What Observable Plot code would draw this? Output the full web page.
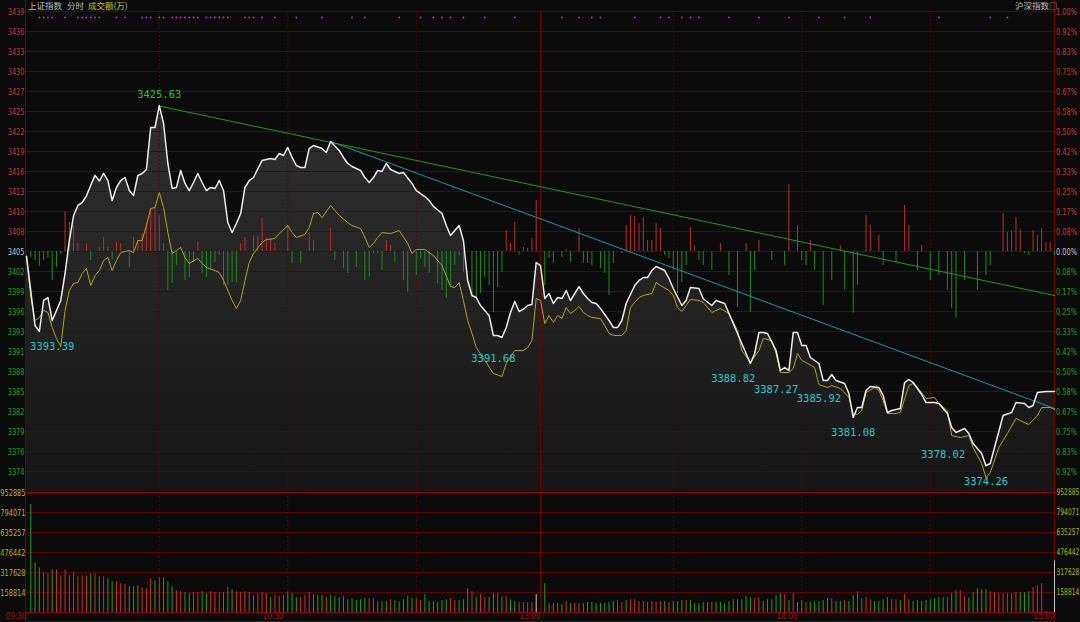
<!DOCTYPE html>
<html><head><meta charset="utf-8">
<script src="https://cdn.jsdelivr.net/npm/d3@7"></script>
<script src="https://cdn.jsdelivr.net/npm/@observablehq/plot@0.6"></script>
<style>
html,body{margin:0;padding:0;background:#0b0b0b;}
#wrap{position:relative;width:1080px;height:622px;overflow:hidden;background:#0b0b0b;}
#wrap svg{position:absolute;left:0;top:0;}
.hdr{position:absolute;top:-1px;font-family:"Noto Sans CJK SC";font-size:8.5px;line-height:12px;white-space:nowrap;}
#border{position:absolute;left:25px;top:0;width:1028px;height:621px;border-left:1px solid #780000;border-right:1px solid #780000;border-bottom:1px solid #780000;}
</style></head>
<body><div id="wrap">
<div id="border"></div>
<div class="hdr" style="left:28px;color:#bdbdbd">上证指数</div>
<div class="hdr" style="left:67px;color:#bdbdbd">分时</div>
<div class="hdr" style="left:88px;color:#c4c41c">成交额(万)</div>
<div class="hdr" style="left:1015px;color:#bdbdbd">沪深指数□</div>
</div>
<script>
const prevClose = 3405.0;
const leftLabels = ["3439","3436","3433","3430","3427","3425","3422","3419","3416","3413","3410","3408","3405","3402","3399","3396","3393","3391","3388","3385","3382","3379","3376","3374"];
const rightLabels = ["1.00%","0.92%","0.83%","0.75%","0.67%","0.58%","0.50%","0.42%","0.33%","0.25%","0.17%","0.08%","0.00%","0.08%","0.17%","0.25%","0.33%","0.42%","0.50%","0.58%","0.67%","0.75%","0.83%","0.92%"];
const volTickValues = [952.885, 794.071, 635.257, 476.442, 317.628, 158.814];
const volTickLabels = ["952885","794071","635257","476442","317628","158814"];
const timeTicks = [0, 60, 120, 180, 240];
const timeLabels = ["09:30","10:30","13:00","14:00","15:00"];
const gridMinutes = [31, 61, 91, 151, 181, 211];
const sessionBreak = 120;

// white line (index, weighted) [minute, price]
const whiteLine = [[0,3404.3],[2,3394.5],[3,3393.65],[4,3398.05],[5,3398.47],[6,3395.21],[8,3398.05],[9,3401.88],[10,3406.56],[11,3410.11],[12,3411.53],[13,3411.95],[14,3412.9],[15,3414.4],[16,3415.8],[17,3415.0],[18,3416.07],[19,3415.07],[20,3412.24],[21,3414.08],[22,3415.07],[23,3415.5],[24,3413.65],[25,3412.95],[26,3415.78],[27,3416.07],[28,3416.63],[29,3422.59],[30,3422.59],[31,3425.7],[32,3423.16],[33,3417.49],[34,3413.94],[35,3414.08],[36,3416.49],[37,3414.65],[38,3413.65],[39,3414.79],[40,3416.07],[41,3414.79],[42,3413.65],[43,3414.08],[44,3413.94],[45,3415.07],[46,3413.65],[47,3409.11],[48,3407.7],[49,3408.97],[50,3410.39],[51,3414.08],[52,3415.07],[53,3415.5],[55,3417.91],[57,3418.19],[58,3418.05],[59,3418.9],[60,3418.62],[61,3419.76],[62,3418.34],[63,3417.2],[64,3416.92],[65,3416.92],[66,3419.61],[67,3420.04],[69,3419.61],[70,3419.05],[71,3420.61],[73,3419.33],[74,3418.34],[75,3417.49],[76,3417.06],[78,3416.49],[79,3415.5],[80,3414.79],[81,3415.5],[82,3416.49],[83,3416.35],[84,3417.49],[85,3416.63],[87,3416.07],[88,3416.21],[90,3414.65],[91,3413.65],[92,3413.2],[93,3412.8],[94,3412.24],[95,3411.4],[97,3410.39],[98,3408.69],[99,3407.27],[100,3407.98],[101,3408.69],[102,3406.56],[103,3400.89],[104,3398.76],[105,3398.47],[106,3397.34],[108,3395.92],[109,3393.08],[110,3393.08],[111,3392.8],[112,3394.22],[113,3396.35],[114,3397.91],[115,3396.49],[116,3396.8],[117,3397.34],[118,3397.48],[119,3403.44],[120,3403.01],[121,3398.33],[122,3399.04],[123,3397.62],[124,3398.47],[125,3398.33],[126,3399.47],[127,3398.05],[128,3399.04],[129,3400.03],[130,3399.04],[131,3398.33],[132,3397.76],[133,3397.62],[134,3396.91],[136,3395.21],[137,3394.22],[138,3394.22],[139,3395.21],[140,3397.62],[142,3400.18],[143,3400.89],[144,3401.31],[145,3401.31],[146,3402.3],[147,3402.87],[149,3402.3],[150,3401.17],[151,3399.75],[153,3397.34],[154,3398.05],[155,3399.89],[157,3399.75],[158,3398.3],[160,3397.34],[161,3398.05],[163,3397.62],[164,3396.2],[166,3393.37],[168,3390.53],[169,3389.11],[170,3390.53],[171,3393.51],[172,3393.51],[173,3393.37],[175,3390.95],[176,3388.12],[177,3388.54],[178,3388.12],[179,3393.51],[180,3393.51],[181,3391.66],[182,3391.66],[183,3389.96],[185,3389.11],[186,3386.7],[187,3386.7],[188,3387.55],[189,3386.7],[191,3386.27],[192,3384.85],[193,3381.45],[194,3382.87],[195,3382.87],[196,3385.28],[197,3385.85],[199,3385.7],[200,3384.57],[201,3382.16],[202,3382.44],[204,3382.73],[205,3386.41],[206,3386.84],[207,3386.41],[209,3384.71],[210,3383.57],[212,3383.57],[213,3383.43],[215,3382.02],[216,3380.03],[217,3379.32],[219,3379.89],[220,3379.18],[221,3377.76],[223,3376.34],[224,3374.6],[225,3374.92],[226,3377.19],[228,3381.73],[230,3382.16],[231,3383.57],[233,3383.43],[234,3382.87],[235,3383.15],[236,3385.0],[238,3385.14],[240,3385.14]];

// yellow line (index, unweighted) [minute, price]
const yellowLine = [[0,3404.4],[1,3398.47],[2,3395.21],[3,3395.64],[4,3396.63],[5,3396.35],[6,3394.22],[7,3392.66],[8,3391.52],[9,3396.63],[10,3399.47],[11,3400.46],[12,3400.6],[13,3401.88],[14,3402.59],[15,3400.18],[16,3401.6],[17,3402.3],[18,3403.72],[19,3404.15],[20,3402.3],[21,3403.72],[22,3404.86],[24,3405.14],[25,3404.86],[26,3406.56],[27,3406.56],[28,3408.69],[29,3411.1],[30,3411.24],[31,3413.37],[32,3411.24],[33,3407.7],[34,3404.72],[35,3405.14],[36,3405.57],[37,3404.15],[38,3403.3],[40,3404.01],[41,3403.3],[42,3402.73],[44,3402.3],[45,3402.02],[46,3400.89],[48,3398.05],[49,3396.91],[50,3398.05],[51,3400.89],[52,3403.44],[53,3404.72],[55,3406.28],[56,3406.7],[58,3406.84],[59,3407.55],[61,3408.69],[62,3407.7],[63,3406.99],[65,3407.41],[66,3408.41],[67,3410.39],[68,3410.53],[69,3409.82],[71,3411.53],[72,3410.82],[73,3410.11],[75,3409.11],[76,3408.69],[78,3408.26],[79,3406.99],[80,3405.57],[81,3406.14],[82,3406.99],[83,3407.7],[85,3407.55],[87,3407.98],[89,3406.14],[90,3404.72],[91,3405.28],[93,3405.28],[95,3404.43],[97,3403.01],[99,3400.03],[100,3399.89],[101,3400.6],[102,3398.05],[103,3395.21],[104,3393.37],[105,3391.38],[107,3389.54],[109,3387.69],[111,3387.27],[112,3389.11],[114,3390.95],[116,3390.95],[117,3391.38],[118,3392.37],[119,3398.33],[120,3398.05],[121,3394.78],[122,3395.92],[123,3394.93],[124,3395.92],[125,3395.49],[126,3397.06],[127,3396.2],[128,3396.63],[129,3397.2],[130,3396.35],[131,3395.92],[132,3395.64],[134,3395.49],[135,3394.5],[136,3393.37],[137,3393.08],[139,3393.08],[140,3393.79],[141,3397.06],[143,3398.47],[144,3398.76],[146,3399.04],[147,3400.6],[148,3400.18],[150,3399.47],[151,3398.76],[152,3397.06],[153,3396.49],[154,3397.34],[155,3398.19],[157,3398.05],[158,3397.76],[160,3396.35],[162,3396.91],[164,3396.2],[166,3393.79],[167,3390.95],[169,3389.25],[171,3390.95],[172,3392.66],[174,3392.37],[175,3390.53],[176,3387.83],[178,3387.83],[179,3388.4],[180,3390.53],[181,3389.54],[182,3389.25],[184,3388.54],[185,3386.12],[187,3385.7],[188,3385.99],[190,3385.56],[192,3384.29],[193,3382.02],[194,3381.87],[195,3382.44],[196,3384.99],[198,3385.7],[199,3385.28],[200,3383.86],[201,3382.02],[203,3382.02],[204,3382.16],[206,3385.99],[207,3386.27],[209,3384.99],[210,3384.14],[212,3384.29],[213,3383.43],[215,3382.44],[216,3378.89],[218,3378.61],[220,3378.89],[221,3377.19],[223,3374.92],[224,3372.94],[225,3373.64],[227,3377.19],[229,3379.18],[231,3381.31],[232,3381.02],[234,3380.45],[236,3381.73],[237,3382.87],[239,3382.87],[240,3382.58]];

// buy/sell strength columns around the previous close [minute, offset]
const forceBars = [[1,-0.85],[2,-1.28],[3,-2.13],[4,-1.28],[5,-0.99],[6,-4.11],[7,-2.27],[8,-0.43],[9,5.68],[10,4.11],[11,3.69],[12,1.13],[14,1.13],[15,-1.28],[17,0.57],[18,1.99],[19,0.57],[20,-1.13],[21,1.28],[22,1.13],[24,-2.27],[25,1.99],[26,1.56],[27,2.55],[28,3.97],[29,6.1],[30,6.24],[31,5.11],[32,1.13],[33,-5.53],[34,-4.54],[35,-1.99],[37,-4.11],[38,-3.69],[39,-1.56],[40,1.28],[41,-3.12],[42,-3.69],[43,-2.7],[44,-1.56],[45,-0.57],[46,-4.82],[47,-4.82],[48,-4.4],[49,-4.4],[50,1.13],[51,1.99],[53,2.27],[54,2.13],[55,4.68],[56,1.84],[57,1.84],[58,1.13],[61,3.69],[62,-1.7],[64,-1.7],[66,2.7],[67,1.56],[71,3.26],[72,-1.28],[74,-2.41],[75,-3.12],[77,-2.27],[79,-4.11],[80,-3.69],[81,-0.28],[82,-0.28],[83,-2.7],[84,1.56],[85,0.85],[86,-1.56],[88,-4.11],[89,-5.82],[91,-3.41],[92,-0.99],[93,-2.27],[94,-3.12],[96,-4.54],[97,-5.53],[98,-6.67],[99,-4.82],[100,-1.99],[101,-0.57],[102,-2.98],[104,-6.53],[105,-6.53],[106,-5.96],[107,-3.69],[108,-4.82],[109,-8.65],[110,-5.11],[111,-2.98],[112,2.98],[113,1.13],[114,4.11],[115,-0.57],[116,0.57],[117,0.43],[118,1.84],[119,7.24],[121,-4.82],[122,-0.99],[123,-1.7],[125,-0.85],[126,0.28],[127,-1.56],[129,3.26],[130,-1.7],[131,-1.7],[132,-1.99],[134,-2.41],[135,-3.12],[136,-6.24],[137,-1.7],[139,-0.28],[140,3.69],[141,5.11],[142,4.97],[143,3.97],[144,4.82],[145,1.56],[146,1.56],[147,3.97],[148,3.26],[149,-0.57],[150,-0.99],[151,-2.7],[152,-5.96],[153,-4.4],[154,-1.99],[155,3.41],[156,0.85],[157,-1.28],[158,-1.99],[160,-2.7],[162,1.13],[164,-3.41],[166,-7.95],[168,1.13],[169,-8.65],[170,-2.7],[171,1.56],[174,-1.28],[177,-1.99],[178,9.5],[180,3.69],[181,-1.28],[182,-1.99],[183,1.56],[184,-2.7],[186,-7.66],[188,-4.11],[190,0.85],[191,-5.53],[193,-8.8],[194,-4.82],[196,5.11],[197,3.69],[199,2.27],[200,-1.99],[203,-1.56],[205,6.53],[206,3.69],[208,-2.7],[209,0.85],[211,-4.11],[213,-3.41],[215,-5.53],[216,-8.09],[217,-9.5],[219,-4.11],[222,-5.53],[224,-3.41],[225,-1.99],[228,5.39],[229,2.7],[230,2.98],[231,4.82],[232,3.12],[233,-0.28],[234,-0.57],[235,2.98],[236,2.27],[237,3.26],[238,1.28],[239,1.28],[240,-0.57]];

// volume (thousand 万) minutes 1..119, then 121..240
const volMorning = [858,394,354,315,307,339,339,291,339,291,315,284,291,291,307,307,284,284,268,244,244,228,221,205,205,213,197,189,268,252,276,276,244,205,173,165,158,150,158,158,165,150,165,158,158,158,197,181,165,158,165,158,134,150,158,150,118,134,126,134,165,150,118,118,134,158,142,134,134,118,134,126,118,126,102,110,95,102,110,110,110,87,87,87,102,95,87,102,126,110,110,95,142,87,87,79,95,102,110,95,95,102,189,165,118,142,118,118,150,150,126,126,102,87,79,79,79,79,142];
const volAfternoon = [228,71,71,71,63,87,71,71,71,71,79,79,71,71,71,79,87,95,79,95,102,102,87,87,79,87,79,87,87,79,87,87,95,95,95,71,71,79,79,79,79,79,71,87,102,102,102,126,118,110,118,87,102,102,134,150,142,95,150,79,95,79,79,87,87,95,110,110,87,87,95,87,134,165,110,118,102,87,87,102,118,102,102,95,142,102,87,95,87,95,102,110,118,118,118,150,173,173,126,118,158,189,181,181,165,158,150,150,150,150,158,158,158,165,197,213,228,8,0,410];
const dirMorning = "gggrrgrrrrrrrrgrgrggrrrgggrrrgrgggrrggrrggrrrgggrrrrrrrrgrrrgggrrrgggrgggggggggrrrggrgggggrrggggggrrgggrgrrggrgrggrrrr";
const dirAfternoon = "grgrgrgrrggggggggrrgrrrrrrrrgrgggrgggggrgggggggggrrgggggrgrggrgggggrggrggrgrrggggrrgrrggggggggrggrrgggggrrrrrrrgggrrrggw";

const eventMinutes = [3,4,5,6,9,12,13,14,15,16,17,21,23,27,28,29,31,32,34,35,36,37,38,39,40,42,43,44,45,46,47,51,52,53,55,58,63,69,76,79,87,92,95,97,99,102,107,114,125,129,132,134,142,148,150,153,155,157,164,171,178,185,191,197,213,225,229];

const peakLabel = [{m: 31, v: 3425.63}];
const lowLabels = [{m: 6, v: 3393.39},{m: 109, v: 3391.68},{m: 165, v: 3388.82},{m: 175, v: 3387.27},{m: 185, v: 3385.92},{m: 193, v: 3381.08},{m: 214, v: 3378.02},{m: 224, v: 3374.26}];
const greenTrend = [[31, 3425.63],[240, 3398.76]];
const cyanTrend = [[71, 3420.61],[240, 3382.73]];

// ---------- derived tables ----------
const yMin = prevClose * 0.99, yMax = prevClose * 1.01;
const priceTicks = leftLabels.map((l, i) => ({k: 12 - i, v: prevClose * (1 + (12 - i) / 1200), left: l, right: rightLabels[i]}));
const volData = [];
volMorning.forEach((v, i) => volData.push({m: i + 1, v, d: dirMorning[i]}));
volAfternoon.forEach((v, i) => volData.push({m: i + 121, v, d: dirAfternoon[i]}));

const RED = "#c8322e", GREEN = "#1e9e1e", GRID = "#620000";
const tickColor = k => k > 0 ? "#c83a3a" : k < 0 ? "#22a022" : "#c8c8c8";
// axis tick labels use a small font, stretched vertically afterwards to mimic the tall narrow bitmap digits
const axisFont = {fontFamily: "'DejaVu Sans',sans-serif", fontSize: 7.6};
const axisFontNarrow = {fontFamily: "'DejaVu Sans',sans-serif", fontSize: 6.4};
const annFont = {fontFamily: "'DejaVu Sans Mono',monospace", fontSize: 10.5};

const priceSvg = Plot.plot({
  width: 1080, height: 492, marginTop: 11, marginBottom: 1, marginLeft: 26, marginRight: 26,
  x: {domain: [0, 240], axis: null},
  y: {domain: [yMin, yMax], axis: null},
  style: {background: "transparent", overflow: "visible"},
  marks: [
    Plot.areaY(whiteLine, {x: d => d[0], y1: yMin, y2: d => d[1], fill: "url(#fillGrad)"}),
    Plot.ruleY(priceTicks, {y: "v", stroke: GRID}),
    Plot.ruleX(gridMinutes, {stroke: GRID, strokeDasharray: "2,2"}),
    Plot.ruleX([sessionBreak], {stroke: "#6e0000"}),
    Plot.ruleX(forceBars, {x: d => d[0], y1: prevClose, y2: d => prevClose + d[1], stroke: d => d[1] > 0 ? "#b8302e" : "#1c8c1c"}),
    Plot.dot(eventMinutes, {x: d => d, frameAnchor: "top", dy: 6, r: 0.9, fill: "#d424d4", stroke: null}),
    Plot.line(greenTrend, {x: d => d[0], y: d => d[1], stroke: "#1a9c1a", strokeWidth: 1}),
    Plot.line(cyanTrend, {x: d => d[0], y: d => d[1], stroke: "#1a9aa6", strokeWidth: 1}),
    Plot.line(yellowLine, {x: d => d[0], y: d => d[1], stroke: "#b4a616", strokeWidth: 1}),
    Plot.line(whiteLine, {x: d => d[0], y: d => d[1], stroke: "#ececec", strokeWidth: 1.5}),
    Plot.text(peakLabel, {x: "m", y: "v", text: d => d.v.toFixed(2), dy: -11, fill: "#22c822", ...annFont}),
    Plot.text(lowLabels, {x: "m", y: "v", text: d => d.v.toFixed(2), dy: 13, fill: "#22cccc", ...annFont}),
    Plot.text(priceTicks, {y: "v", text: "left", frameAnchor: "left", textAnchor: "end", dx: -2, fill: d => tickColor(d.k), ...axisFont}),
    Plot.text(priceTicks, {y: "v", text: "right", frameAnchor: "right", textAnchor: "start", dx: 1.5, fill: d => tickColor(d.k), ...axisFont})
  ]
});
d3.select(priceSvg).insert("defs", ":first-child").html(
  '<linearGradient id="fillGrad" x1="0" y1="0" x2="0" y2="1"><stop offset="0" stop-color="#303030"/><stop offset="1" stop-color="#151515"/></linearGradient>');

const volTicks = volTickValues.map((v, i) => ({v, label: volTickLabels[i]}));
const volSvg = Plot.plot({
  width: 1080, height: 622, marginTop: 492, marginBottom: 10, marginLeft: 26, marginRight: 26,
  x: {domain: [0, 240], axis: null},
  y: {domain: [0, volTickValues[0]], axis: null},
  style: {background: "transparent", overflow: "visible"},
  marks: [
    Plot.ruleY(volTicks.slice(1), {y: "v", stroke: GRID}),
    Plot.ruleX(gridMinutes, {stroke: GRID, strokeDasharray: "2,2"}),
    Plot.ruleX([sessionBreak], {stroke: "#6e0000"}),
    Plot.ruleX(volData.filter(d => d.v > 0), {x: "m", y1: 0, y2: "v", stroke: d => d.d === "r" ? RED : d.d === "g" ? GREEN : "#c8c8c8"}),
    Plot.ruleY([volTickValues[0]], {stroke: "#a00000"}),
    Plot.ruleY([0], {stroke: "#860000"}),
    Plot.text(volTicks, {y: "v", text: "label", frameAnchor: "left", textAnchor: "end", dx: -1, fill: "#b4b41c", ...axisFont}),
    Plot.text(volTicks, {y: "v", text: "label", frameAnchor: "right", textAnchor: "start", dx: 2, fill: "#b4b41c", ...axisFontNarrow}),
    Plot.text(timeTicks, {x: d => d, text: (d, i) => timeLabels[i], frameAnchor: "bottom", dy: 6, textAnchor: "end", fill: "#a01616", ...axisFont})
  ]
});

// condense the axis tick labels to the narrow bitmap-like width of the original
function fontSizeOf(el) {
  for (let n = el; n && n.getAttribute; n = n.parentNode) {
    const fs = n.getAttribute("font-size");
    if (fs) return fs;
  }
  return null;
}
function squeeze(svg) {
  svg.querySelectorAll("text").forEach(t => {
    const fs = fontSizeOf(t);
    const spec = fs === "7.6" ? [4.2, 1.25] : fs === "6.4" ? [3.8, 1.45] : null;
    if (spec) {
      t.setAttribute("textLength", String(t.textContent.length * spec[0]));
      t.setAttribute("lengthAdjust", "spacingAndGlyphs");
      const tr = t.getAttribute("transform");
      if (tr) t.setAttribute("transform", tr + ` scale(1,${spec[1]})`);
    }
  });
}
squeeze(priceSvg);
squeeze(volSvg);

const wrap = document.getElementById("wrap");
wrap.appendChild(priceSvg);
wrap.appendChild(volSvg);
</script>
</body></html>
